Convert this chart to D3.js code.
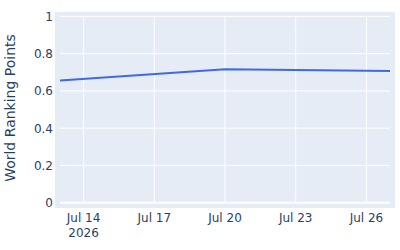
<!DOCTYPE html>
<html>
<head>
<meta charset="utf-8">
<script src="https://cdn.jsdelivr.net/npm/d3@7"></script>
<style>
  body { margin: 0; background: #fff; }
  svg text { font-family: "DejaVu Sans", verdana, arial, sans-serif; fill: #2a3f5f; }
</style>
</head>
<body>
<svg id="chart"></svg>
<script>
// data
const fechas = ['2026-07-13', '2026-07-20', '2026-07-27'];
const puntos = [0.656, 0.716, 0.707];
const ticksX = ['2026-07-14', '2026-07-17', '2026-07-20', '2026-07-23', '2026-07-26'];
const ticksY = [0, 0.2, 0.4, 0.6, 0.8, 1];

const w = 400;
const h = 250;
const parse = d3.timeParse('%Y-%m-%d');

const svg = d3.select('#chart')
  .attr('width', w)
  .attr('height', h);

const escalaX = d3.scaleTime()
  .domain([parse(fechas[0]), parse(fechas[fechas.length - 1])])
  .range([60, 390]);
const escalaY = d3.scaleLinear()
  .domain([0, 1])
  .range([202.7, 16.4]);

// plot background
svg.append('rect')
  .attr('x', 55).attr('y', 12)
  .attr('width', 340).attr('height', 196)
  .attr('fill', '#e5ecf6');

// grid
svg.append('g')
  .selectAll('line')
  .data(ticksX)
  .enter()
  .append('line')
  .attr('x1', d => escalaX(parse(d))).attr('x2', d => escalaX(parse(d)))
  .attr('y1', 16.4).attr('y2', 202.7)
  .attr('stroke', '#fff').attr('stroke-width', 1);

svg.append('g')
  .selectAll('line')
  .data(ticksY)
  .enter()
  .append('line')
  .attr('x1', 60).attr('x2', 390)
  .attr('y1', d => escalaY(d)).attr('y2', d => escalaY(d))
  .attr('stroke', '#fff')
  .attr('stroke-width', d => d === 0 ? 2 : 1);

// y labels
svg.append('g')
  .selectAll('text')
  .data(ticksY)
  .enter()
  .append('text')
  .attr('x', 53)
  .attr('y', d => escalaY(d) + 4.5)
  .attr('text-anchor', 'end')
  .style('font-size', '12px')
  .text(d => d3.format('')(d));

// x labels
const formatoFecha = d3.timeFormat('%b %d');
svg.append('g')
  .selectAll('text')
  .data(ticksX)
  .enter()
  .append('text')
  .attr('x', d => escalaX(parse(d)))
  .attr('y', 221.5)
  .attr('text-anchor', 'middle')
  .style('font-size', '12px')
  .text(d => formatoFecha(parse(d)));

svg.append('text')
  .attr('x', escalaX(parse(ticksX[0])))
  .attr('y', 237)
  .attr('text-anchor', 'middle')
  .style('font-size', '12px')
  .text('2026');

// axis title
svg.append('text')
  .attr('transform', 'translate(14.5, 108) rotate(-90)')
  .attr('text-anchor', 'middle')
  .style('font-size', '14px')
  .text('World Ranking Points');

const linea = d3.line()
  .x((d, i) => escalaX(parse(fechas[i])))
  .y(d => escalaY(d));

svg.append('path')
  .attr('d', linea(puntos))
  .style('stroke-width', 2)
  .style('stroke', 'royalblue')
  .style('fill', 'none');
</script>
</body>
</html>
